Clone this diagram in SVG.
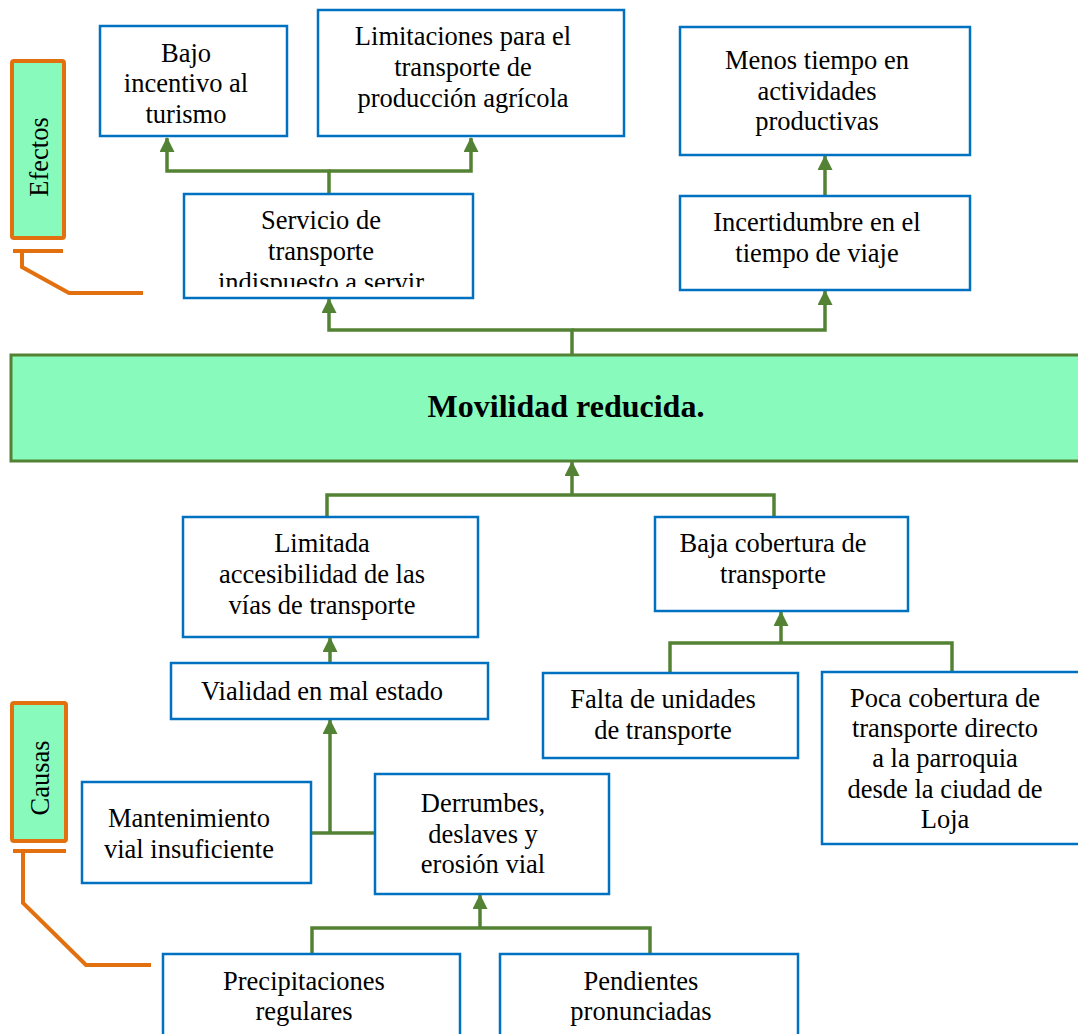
<svg xmlns="http://www.w3.org/2000/svg" width="1078" height="1034" viewBox="0 0 1078 1034">
  <defs>
    <style>
      .box { fill: #ffffff; stroke: #0070C0; stroke-width: 2.5; }
      .t { font-family: "Liberation Serif", "Times New Roman", serif; font-size: 26.5px; fill: #000; text-anchor: middle; }
      .lbl { fill: #88FBBC; stroke: #E3700F; stroke-width: 4; }
      .br { fill: none; stroke: #E3700F; stroke-width: 4; }
      .c { fill: none; stroke: #548235; stroke-width: 3.5; }
      .ca { fill: none; stroke: #548235; stroke-width: 3.5; marker-end: url(#ah); }
    </style>
    <marker id="ah" markerUnits="userSpaceOnUse" markerWidth="16" markerHeight="16" refX="14" refY="7.5" orient="auto">
      <path d="M0,0 L15,7.5 L0,15 z" fill="#548235"/>
    </marker>
    <clipPath id="clipServ">
      <rect x="184" y="194" width="289" height="93"/>
    </clipPath>
  </defs>
  <rect width="1078" height="1034" fill="#ffffff"/>

  <g id="connectors">
    <path class="ca" d="M329,194 V171 H167 V138"/>
    <path class="ca" d="M329,171 H471 V138"/>
    <path class="ca" d="M825,196 V156"/>
    <path class="ca" d="M572,355 V330 H329 V299"/>
    <path class="ca" d="M572,330 H825 V291"/>
    <path class="c" d="M327,517 V495 H774 V517"/>
    <path class="ca" d="M572,495 V462"/>
    <path class="c" d="M670,673 V643 H952 V672"/>
    <path class="ca" d="M781,643 V612"/>
    <path class="ca" d="M330,663 V638"/>
    <path class="c" d="M311,833 H375"/>
    <path class="ca" d="M330,833 V720"/>
    <path class="c" d="M312,954 V928 H650 V954"/>
    <path class="ca" d="M480,928 V895"/>
  </g>

  <g id="label-efectos">
    <rect class="lbl" x="12" y="61" width="52" height="177" rx="2"/>
    <text class="t" transform="translate(48,157) rotate(-90)">Efectos</text>
    <path class="br" d="M13,251 H63 M22,251 V267 L69,293 H143"/>
  </g>

  <g id="label-causas">
    <rect class="lbl" x="12" y="703" width="54" height="138" rx="2"/>
    <text class="t" transform="translate(49,778) rotate(-90)">Causas</text>
    <path class="br" d="M13,851 H66 M23,851 V903 L86,965 H151"/>
  </g>

  <g id="n-bajo">
    <rect class="box" x="100" y="26" width="187" height="110"/>
    <text class="t" x="186" y="62">Bajo</text>
    <text class="t" x="186" y="92">incentivo al</text>
    <text class="t" x="186" y="123">turismo</text>
  </g>

  <g id="n-limitaciones">
    <rect class="box" x="318" y="10" width="306" height="126"/>
    <text class="t" x="463" y="45">Limitaciones para el</text>
    <text class="t" x="463" y="76">transporte de</text>
    <text class="t" x="463" y="107">producción agrícola</text>
  </g>

  <g id="n-menos">
    <rect class="box" x="680" y="27" width="290" height="128"/>
    <text class="t" x="817" y="69">Menos tiempo en</text>
    <text class="t" x="817" y="100">actividades</text>
    <text class="t" x="817" y="130">productivas</text>
  </g>

  <g id="n-servicio">
    <rect class="box" x="184" y="194" width="289" height="104"/>
    <g clip-path="url(#clipServ)">
      <text class="t" x="321" y="229">Servicio de</text>
      <text class="t" x="321" y="260">transporte</text>
      <text class="t" x="321" y="291">indispuesto a servir</text>
    </g>
  </g>

  <g id="n-incertidumbre">
    <rect class="box" x="680" y="196" width="290" height="94"/>
    <text class="t" x="817" y="231">Incertidumbre en el</text>
    <text class="t" x="817" y="262">tiempo de viaje</text>
  </g>

  <g id="n-movilidad">
    <rect x="11" y="355" width="1072" height="106" fill="#88FBBC" stroke="#548235" stroke-width="3"/>
    <text class="t" x="566" y="417" style="font-size:32px;font-weight:bold">Movilidad reducida.</text>
  </g>

  <g id="n-limitada">
    <rect class="box" x="183" y="517" width="295" height="120"/>
    <text class="t" x="322" y="552">Limitada</text>
    <text class="t" x="322" y="583">accesibilidad de las</text>
    <text class="t" x="322" y="614">vías de transporte</text>
  </g>

  <g id="n-baja">
    <rect class="box" x="655" y="517" width="253" height="94"/>
    <text class="t" x="773" y="552">Baja cobertura de</text>
    <text class="t" x="773" y="583">transporte</text>
  </g>

  <g id="n-vialidad">
    <rect class="box" x="171" y="663" width="317" height="56"/>
    <text class="t" x="322" y="700">Vialidad en mal estado</text>
  </g>

  <g id="n-falta">
    <rect class="box" x="543" y="673" width="255" height="85"/>
    <text class="t" x="663" y="708">Falta de unidades</text>
    <text class="t" x="663" y="739">de transporte</text>
  </g>

  <g id="n-poca">
    <rect class="box" x="822" y="672" width="262" height="172"/>
    <text class="t" x="945" y="707">Poca cobertura de</text>
    <text class="t" x="945" y="737">transporte directo</text>
    <text class="t" x="945" y="767">a la parroquia</text>
    <text class="t" x="945" y="798">desde la ciudad de</text>
    <text class="t" x="945" y="828">Loja</text>
  </g>

  <g id="n-mantenimiento">
    <rect class="box" x="82" y="782" width="229" height="101"/>
    <text class="t" x="189" y="827">Mantenimiento</text>
    <text class="t" x="189" y="858">vial insuficiente</text>
  </g>

  <g id="n-derrumbes">
    <rect class="box" x="375" y="774" width="234" height="120"/>
    <text class="t" x="483" y="812">Derrumbes,</text>
    <text class="t" x="483" y="843">deslaves y</text>
    <text class="t" x="483" y="873">erosión vial</text>
  </g>

  <g id="n-precipitaciones">
    <rect class="box" x="163" y="954" width="297" height="90"/>
    <text class="t" x="304" y="990">Precipitaciones</text>
    <text class="t" x="304" y="1020">regulares</text>
  </g>

  <g id="n-pendientes">
    <rect class="box" x="500" y="954" width="298" height="90"/>
    <text class="t" x="641" y="990">Pendientes</text>
    <text class="t" x="641" y="1020">pronunciadas</text>
  </g>
</svg>
